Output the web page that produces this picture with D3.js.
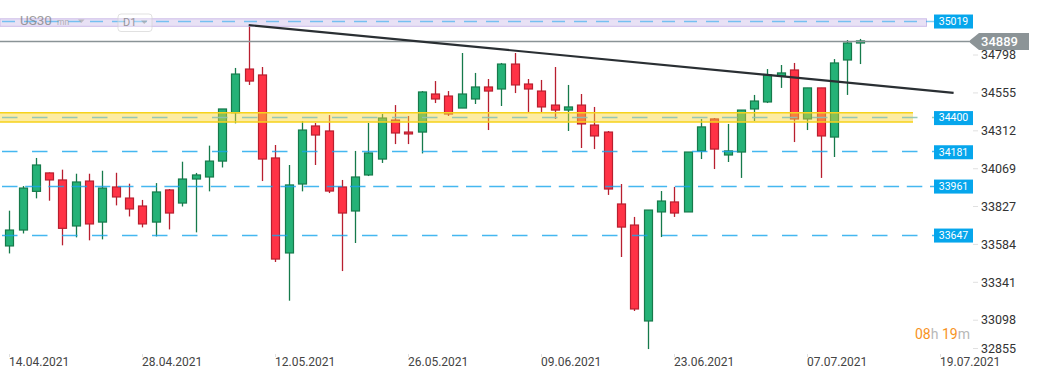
<!DOCTYPE html>
<html>
<head>
<meta charset="utf-8">
<script src="https://cdn.jsdelivr.net/npm/d3@7"></script>
<style>
  html, body { margin: 0; padding: 0; background: #fff; }
  svg { display: block; font-family: Roboto, "Noto Sans", sans-serif; }
</style>
</head>
<body>
<svg id="chart" width="1041" height="380"></svg>
<script>
// ---- Data ----
const dateTickLabels = ["14.04.2021","28.04.2021","12.05.2021","26.05.2021","09.06.2021","23.06.2021","07.07.2021","19.07.2021"];
const dateTickIndex  = [0, 10, 20, 30, 40, 50, 60, 70];
const priceTicks = [34798, 34555, 34312, 34069, 33827, 33584, 33341, 33098, 32855];

const opens  = [33574,33676,33924,34042,33997,33702,33990,33727,33952,33881,
                33830,33727,33933,33849,34003,34016,34118,34428,34708,34670,
                34138,33529,33971,34343,34311,33952,33798,34029,34131,34381,
                34304,34304,34548,34535,34458,34516,34593,34580,34740,34612,
                34567,34477,34445,34477,34349,34304,33843,33708,33093,33792,
                33856,33792,34183,34388,34157,34176,34452,34497,34663,34702,
                34388,34587,34272,34766,34875];
const highs  = [33800,33958,34138,34045,34063,34037,34037,34056,34043,33973,
                33869,33977,33939,34114,34042,34217,34452,34715,34986,34721,
                34221,34093,34375,34362,34413,33997,34183,34362,34420,34477,
                34407,34567,34631,34567,34811,34683,34644,34747,34811,34644,
                34638,34721,34606,34548,34465,34311,33971,33760,33804,33926,
                33952,34176,34388,34394,34356,34445,34542,34708,34734,34747,
                34587,34587,34772,34894,34901];
const lows   = [33526,33654,33879,33864,33578,33629,33610,33616,33834,33763,
                33693,33635,33680,33827,33661,33924,34077,34360,34606,33990,
                33471,33223,33924,34093,33913,33413,33593,34022,34106,34227,
                34227,34167,34490,34407,34458,34484,34317,34471,34554,34433,
                34433,34388,34311,34202,34195,33901,33503,33157,32913,33631,
                33760,33792,34131,34067,34112,34010,34375,34490,34587,34240,
                34317,34010,34144,34542,34740];
const closes = [33676,33945,34093,33997,33687,33984,33715,33945,33888,33811,
                33715,33920,33785,34003,34029,34118,34452,34676,34631,34131,
                33490,33965,34317,34285,33926,33785,34016,34170,34394,34298,
                34292,34561,34516,34420,34548,34593,34567,34740,34606,34580,
                34465,34445,34465,34356,34279,33939,33695,33170,33804,33862,
                33785,34176,34337,34195,34183,34445,34503,34670,34683,34388,
                34587,34279,34747,34875,34888];

// horizontal levels with labels
const levelValues = [35019, 34400, 34181, 33961, 33647];
const levelDash   = ["13,9", "15.5,14.5", "15.5,14.5", "15.5,7.7", "15.5,14.5"];
const currentPrice = 34889;
// zones (price ranges)
const zoneTop    = [35030, 34428];
const zoneBottom = [34982, 34368];
// trendline anchors: [candle index, price]
const trendIdx   = [18, 71];
const trendPrice = [34990, 34555];
const countdown = ["08", "h ", "19", "m"];

// ---- Scales ----
const svg = d3.select("#chart");
const x = d3.scaleLinear().domain([0, 70]).range([9.3, 940.3]);
const y = d3.scaleLinear().domain([34798, 33098]).range([55, 55 + 1700 * 0.156]);

const GREEN = "#25b277", GREEN_D = "#167a4b";
const RED = "#ff3346", RED_D = "#b81f2f";
const BLUE = "#16a5ec";

const plotRight = 934;

// ---- Candles ----
const candles = opens.map((o, i) => ({ i, o, h: highs[i], l: lows[i], c: closes[i] }));
const gC = svg.append("g");
candles.forEach(d => {
  const cx = Math.round(x(d.i));
  const up = d.c >= d.o;
  const dark = up ? GREEN_D : RED_D;
  gC.append("line")
    .attr("x1", cx + 0.5).attr("x2", cx + 0.5)
    .attr("y1", y(d.h)).attr("y2", y(d.l))
    .attr("stroke", dark).attr("stroke-width", 1.3);
  const top = y(Math.max(d.o, d.c)), bot = y(Math.min(d.o, d.c));
  gC.append("rect")
    .attr("x", cx - 3.5).attr("width", 8)
    .attr("y", top).attr("height", Math.max(1.5, bot - top))
    .attr("fill", up ? GREEN : RED)
    .attr("stroke", dark).attr("stroke-width", 1.2);
});

// ---- Zones ----
svg.append("rect")
  .attr("x", 0).attr("width", 926.5)
  .attr("y", y(zoneTop[0])).attr("height", y(zoneBottom[0]) - y(zoneTop[0]))
  .attr("fill", "rgba(190,170,225,0.35)")
  .attr("stroke", "#cdbde9").attr("stroke-width", 1);
const yz = svg.append("g");
yz.append("rect")
  .attr("x", 0).attr("width", 913)
  .attr("y", y(zoneTop[1])).attr("height", y(zoneBottom[1]) - y(zoneTop[1]))
  .attr("fill", "rgba(250,213,50,0.45)");
[zoneTop[1], zoneBottom[1]].forEach(v => {
  yz.append("line").attr("x1", 0).attr("x2", 913)
    .attr("y1", y(v)).attr("y2", y(v))
    .attr("stroke", "#f6d21c").attr("stroke-width", 1.5);
});

// ---- Level lines ----
levelValues.forEach((v, k) => {
  const yy = Math.round(y(v)) + 0.5;
  svg.append("line")
    .attr("x1", 2).attr("x2", plotRight)
    .attr("y1", yy).attr("y2", yy)
    .attr("stroke", k === 1 ? "#8cc3b4" : BLUE)
    .attr("stroke-opacity", k === 0 ? 0.55 : (k === 1 ? 0.9 : 0.8))
    .attr("stroke-width", k === 0 ? 1.3 : 1.6)
    .attr("stroke-dasharray", levelDash[k]);
});

// current price line
const yCur = Math.round(y(currentPrice)) + 0.5;
svg.append("line").attr("x1", 0).attr("x2", 969)
  .attr("y1", yCur).attr("y2", yCur)
  .attr("stroke", "#8a9396").attr("stroke-width", 1.5);

// ---- Trendline ----
svg.append("line")
  .attr("x1", x(trendIdx[0])).attr("y1", y(trendPrice[0]))
  .attr("x2", x(trendIdx[1])).attr("y2", y(trendPrice[1]))
  .attr("stroke", "#2a2f33").attr("stroke-width", 2.2);

// ---- Level labels ----
levelValues.forEach(v => {
  const yy = y(v) + 1;
  svg.append("rect").attr("x", 934).attr("y", yy - 7).attr("width", 39).attr("height", 14)
    .attr("fill", "#06a6ec");
  svg.append("text").attr("x", 953.5).attr("y", yy + 0.5)
    .attr("text-anchor", "middle").attr("dominant-baseline", "middle")
    .attr("fill", "#fff").attr("font-size", 10.5).text(v);
});

// ---- Right axis ----
const gy = svg.append("g");
priceTicks.forEach(v => {
  const yy = Math.min(y(v), 348.5);
  gy.append("line").attr("x1", 973).attr("x2", 978).attr("y1", yy).attr("y2", yy)
    .attr("stroke", "#e0e0e0").attr("stroke-width", 1);
  gy.append("text").attr("x", 981).attr("y", yy + 1)
    .attr("dominant-baseline", "middle").attr("fill", "#333")
    .attr("font-size", 12.5).text(v);
});

// current price tag
const tag = svg.append("g");
tag.append("path")
  .attr("d", `M968.5,${yCur} L979,${yCur - 8.5} L1029,${yCur - 8.5} L1029,${yCur + 8.5} L979,${yCur + 8.5} Z`)
  .attr("fill", "#8c9497");
tag.append("text").attr("x", 981).attr("y", yCur + 1)
  .attr("dominant-baseline", "middle").attr("fill", "#fff")
  .attr("font-size", 13).attr("font-weight", 500).text(currentPrice);

// ---- Bottom axis ----
const gx = svg.append("g");
dateTickIndex.forEach((idx, k) => {
  const xx = Math.round(x(idx)) + 0.5;
  gx.append("line").attr("x1", xx).attr("x2", xx).attr("y1", 354).attr("y2", 357)
    .attr("stroke", "#e0e0e0");
  gx.append("text").attr("x", xx - 0.5).attr("y", 363)
    .attr("dominant-baseline", "middle").attr("fill", "#444")
    .attr("font-size", 12).text(dateTickLabels[k]);
});

// ---- Countdown ----
const cd = svg.append("text").attr("x", 915).attr("y", 335)
  .attr("dominant-baseline", "middle").attr("font-size", 14);
countdown.forEach((t, k) => {
  cd.append("tspan").attr("fill", k % 2 === 0 ? "#f7931e" : "#b8b8b8").text(t);
});

// ---- Header (faded) ----
const hd = svg.append("g").attr("opacity", 0.7);
hd.append("text").attr("x", 20).attr("y", 21.5).attr("dominant-baseline", "middle")
  .attr("fill", "#777").attr("font-size", 13.5).text("US30");
hd.append("text").attr("x", 57).attr("y", 23).attr("dominant-baseline", "middle")
  .attr("fill", "#999").attr("font-size", 8.5).text("mn");
hd.append("path").attr("d", "M78,19.5 L84.5,19.5 L81.25,23 Z").attr("fill", "#aaa");
hd.append("rect").attr("x", 118).attr("y", 14).attr("width", 34).attr("height", 17.5)
  .attr("rx", 3).attr("fill", "rgba(255,255,255,0.4)").attr("stroke", "#d5d5d5");
hd.append("text").attr("x", 123).attr("y", 23).attr("dominant-baseline", "middle")
  .attr("fill", "#777").attr("font-size", 11).text("D1");
hd.append("path").attr("d", "M141,20.5 L147.5,20.5 L144.25,24 Z").attr("fill", "#aaa");
</script>
</body>
</html>
